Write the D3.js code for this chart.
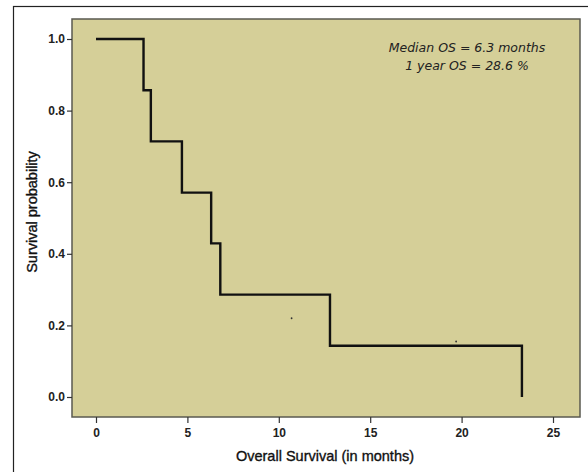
<!DOCTYPE html>
<html>
<head>
<meta charset="utf-8">
<script src="https://cdn.jsdelivr.net/npm/d3@7"></script>
<style>
  body { margin: 0; background: #fff; }
  svg { display: block; }
</style>
</head>
<body>
<div class="canvas"></div>
<script>
    // Kaplan-Meier steps
    const times = [0, 2.6, 3.0, 4.7, 6.3, 6.8, 12.8, 23.3];
    const survival = [1.0, 0.857, 0.714, 0.571, 0.429, 0.286, 0.143, 0.0];
    const strayTimes = [10.7, 19.7];
    const strayValues = [0.22, 0.155];
    const xTicks = [0, 5, 10, 15, 20, 25];
    const yTicks = [0.0, 0.2, 0.4, 0.6, 0.8, 1.0];
    const notes = ['Median OS = 6.3 months', '1 year OS = 28.6 %'];

    const dims = { width: 588, height: 472 };
    const plot = { left: 72, right: 580, top: 19, bottom: 417 };

    const svg = d3.select('.canvas').append('svg')
        .attr('width', dims.width)
        .attr('height', dims.height);

    // outer frame (runs off the right and bottom)
    svg.append('rect')
        .attr('x', 13.5).attr('y', 6.5)
        .attr('width', 600).attr('height', 500)
        .attr('fill', 'none')
        .attr('stroke', '#222')
        .attr('stroke-width', 1.2);

    svg.append('rect')
        .attr('x', plot.left).attr('y', plot.top)
        .attr('width', plot.right - plot.left)
        .attr('height', plot.bottom - plot.top)
        .attr('fill', '#d5cf98')
        .attr('stroke', '#5a5a50')
        .attr('stroke-width', 1.5);

    const x = d3.scaleLinear().domain([0, 25]).range([96, 553]);
    const y = d3.scaleLinear().domain([0, 1]).range([397, 39]);

    const xAxis = svg.append('g')
        .attr('transform', `translate(0,${plot.bottom})`)
        .call(d3.axisBottom(x).tickValues(xTicks).tickSize(6).tickPadding(5).tickFormat(d3.format('d')));
    const yAxis = svg.append('g')
        .attr('transform', `translate(${plot.left},0)`)
        .call(d3.axisLeft(y).tickValues(yTicks).tickSize(5).tickPadding(2).tickFormat(d3.format('.1f')));

    [xAxis, yAxis].forEach(g => {
        g.select('.domain').remove();
        g.selectAll('line').attr('stroke', '#333').attr('stroke-width', 1.2);
        g.selectAll('text')
            .attr('fill', '#222')
            .style('font-family', '"Liberation Sans", Arial, sans-serif')
            .style('font-weight', 'bold')
            .style('font-size', '12px');
    });

    const titleStyle = sel => sel
        .attr('text-anchor', 'middle')
        .style('font-family', '"Liberation Sans", Arial, sans-serif')
        .style('font-size', '14.5px')
        .attr('fill', '#111')
        .attr('stroke', '#111')
        .attr('stroke-width', 0.35);

    svg.append('text')
        .attr('x', 325).attr('y', 461)
        .call(titleStyle)
        .text('Overall Survival (in months)');

    svg.append('text')
        .attr('transform', 'translate(37,212) rotate(-90)')
        .call(titleStyle)
        .text('Survival probability');

    // step curve
    const pts = times.map((t, i) => [t, survival[i]]);
    const line = d3.line()
        .x(d => x(d[0]))
        .y(d => y(d[1]))
        .curve(d3.curveStepAfter);

    svg.append('path')
        .datum(pts)
        .attr('d', line)
        .attr('fill', 'none')
        .attr('stroke', '#111')
        .attr('stroke-width', 2.4)
        .attr('stroke-linejoin', 'miter');

    svg.selectAll('.dot')
        .data(strayTimes)
        .enter().append('circle')
        .attr('class', 'dot')
        .attr('cx', d => x(d))
        .attr('cy', (d, i) => y(strayValues[i]))
        .attr('r', 0.9)
        .attr('fill', '#333');

    svg.selectAll('.note')
        .data(notes)
        .enter().append('text')
        .attr('class', 'note')
        .attr('x', 467)
        .attr('y', (d, i) => 52 + i * 18)
        .attr('text-anchor', 'middle')
        .style('font-family', '"DejaVu Sans", sans-serif')
        .style('font-style', 'italic')
        .style('font-size', '12.5px')
        .attr('fill', '#222')
        .text(d => d);
</script>
</body>
</html>
